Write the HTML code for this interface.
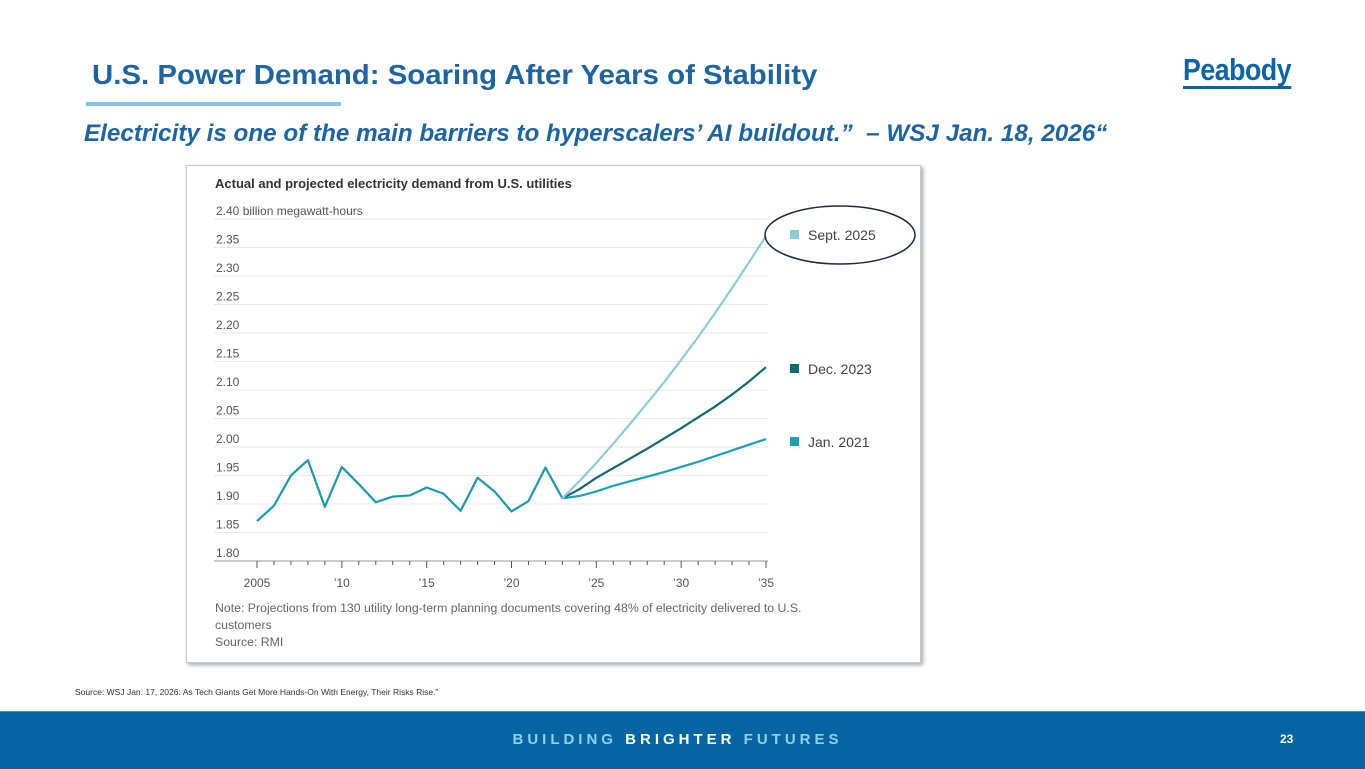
<!DOCTYPE html>
<html><head><meta charset="utf-8">
<style>
body{margin:0;width:1365px;height:768px;background:#fff;position:relative;overflow:hidden;font-family:"Liberation Sans",sans-serif}
.abs{position:absolute}
</style></head><body>
<div class="abs" style="left:92px;top:59px;font-size:28px;font-weight:bold;color:#1c64a4;white-space:nowrap;transform:scaleX(1.05);transform-origin:left">U.S. Power Demand: Soaring After Years of Stability</div>
<div class="abs" style="left:86px;top:102px;width:255px;height:4px;background:#7cc6ea"></div>
<div class="abs" style="left:1183px;top:54px;font-size:31px;font-weight:bold;color:#0b63a8;transform:scaleX(0.86);transform-origin:left;letter-spacing:-0.5px;border-bottom:3px solid #0b63a8;line-height:32px">Peabody</div>
<div class="abs" style="left:84px;top:120px;font-size:24px;font-weight:bold;font-style:italic;color:#1c64a4;white-space:nowrap;transform:scaleX(1.01);transform-origin:left">Electricity is one of the main barriers to hyperscalers’ AI buildout.”&nbsp; – WSJ Jan. 18, 2026“</div>

<div class="abs" style="left:186px;top:165px;width:733px;height:496px;border:1px solid #c8c8c8;box-shadow:2px 2px 4px rgba(60,80,110,0.5);background:#fff"></div>
<svg class="abs" style="left:0;top:0" width="1365" height="768" id="chart"></svg>

<div class="abs" style="left:75px;top:687px;font-size:8.5px;color:#333">Source: WSJ Jan. 17, 2026: As Tech Giants Get More Hands-On With Energy, Their Risks Rise.”</div>
<div class="abs" style="left:0;top:711px;width:1365px;height:57px;background:#0565a3;border-top:1px solid #4a8fc2"></div>
<div class="abs" style="left:0;width:1355px;top:731px;text-align:center;font-size:15px;font-weight:bold;letter-spacing:4px;color:#8fd0f0">BUILDING <span style="color:#fff">BRIGHTER</span> FUTURES</div>
<div class="abs" style="left:1280px;top:732px;font-size:12px;font-weight:bold;color:#fff">23</div>

<script>
const years=[2005,2006,2007,2008,2009,2010,2011,2012,2013,2014,2015,2016,2017,2018,2019,2020,2021,2022,2023];
const actual=[1.87,1.897,1.95,1.977,1.895,1.965,1.935,1.903,1.913,1.915,1.929,1.918,1.888,1.946,1.922,1.887,1.905,1.964,1.91];
const projYears=[2023,2024,2025,2026,2027,2028,2029,2030,2031,2032,2033,2034,2035];
const jan2021=[1.91,1.914,1.922,1.932,1.94,1.948,1.956,1.965,1.974,1.984,1.994,2.004,2.014];
const dec2023=[1.91,1.926,1.946,1.963,1.98,1.997,2.015,2.033,2.052,2.071,2.092,2.115,2.14];
const sep2025=[1.91,1.94,1.972,2.006,2.041,2.077,2.114,2.153,2.193,2.235,2.279,2.324,2.37];
const yTicks=[1.80,1.85,1.90,1.95,2.00,2.05,2.10,2.15,2.20,2.25,2.30,2.35,2.40];
const xLabels=[[2005,"2005"],[2010,"’10"],[2015,"’15"],[2020,"’20"],[2025,"’25"],[2030,"’30"],[2035,"’35"]];
const series=[["Sept. 2025",sep2025,"#8ccbda",235],["Dec. 2023",dec2023,"#0e6a70",369],["Jan. 2021",jan2021,"#1aa1b4",442]];

const NS="http://www.w3.org/2000/svg";
const svg=document.getElementById('chart');
const X=y=>257+(y-2005)*(766-257)/30;
const Y=v=>561-(v-1.80)*570;
function mk(t,a){const e=document.createElementNS(NS,t);for(const k in a)e.setAttribute(k,a[k]);svg.appendChild(e);return e;}
let t=mk('text',{x:215,y:188,'font-size':13,'font-weight':'bold',fill:'#333'});t.textContent="Actual and projected electricity demand from U.S. utilities";


yTicks.forEach((v,i)=>{
  const g=mk('line',{x1:214,x2:768,y1:Y(v),y2:Y(v),stroke:i==0?'#999':'#e8e8e8','stroke-width':1});
  
  
  const l=mk('text',{x:216,y:Y(v)-4,'font-size':12,fill:'#555'});
  l.textContent=v.toFixed(2)+(i==yTicks.length-1?" billion megawatt-hours":"");
  
  
});
for(let y=2005;y<=2035;y++){
  const tk=mk('line',{x1:X(y),x2:X(y),y1:561,y2:y%5==0?568:565,stroke:'#555'});
  
  
}
xLabels.forEach(([y,s])=>{const l=mk('text',{x:X(y),y:587,'font-size':12,fill:'#555','text-anchor':'middle'});l.textContent=s;
  
  });
function line(xs,vs,c,name){const p=mk('polyline',{points:xs.map((y,i)=>X(y)+','+Y(vs[i])).join(' '),fill:'none',stroke:c,'stroke-width':2.2,'stroke-linejoin':'round'});
  
  }
line(years,actual,'#1a9aab','actual-line');
series.slice().reverse().forEach(s=>line(projYears,s[1],s[2],'projection-'+s[0].replace(/[^a-z0-9]+/gi,'-').toLowerCase()));
series.forEach(s=>{
  const r=mk('rect',{x:790,y:s[3]-5,width:9,height:9,fill:s[2]});
  
  
  const l=mk('text',{x:808,y:s[3]+5,'font-size':14,fill:'#444'});l.textContent=s[0];
  
  
});
const el=mk('ellipse',{cx:840,cy:235,rx:75,ry:29,fill:'none',stroke:'#1a2a40','stroke-width':1.5});


[["Note: Projections from 130 utility long-term planning documents covering 48% of electricity delivered to U.S.",612],["customers",629],["Source: RMI",646]].forEach(([s,y])=>{
  const l=mk('text',{x:215,y:y,'font-size':12.3,fill:'#666'});l.textContent=s;
  
  
});
</script>
</body></html>
